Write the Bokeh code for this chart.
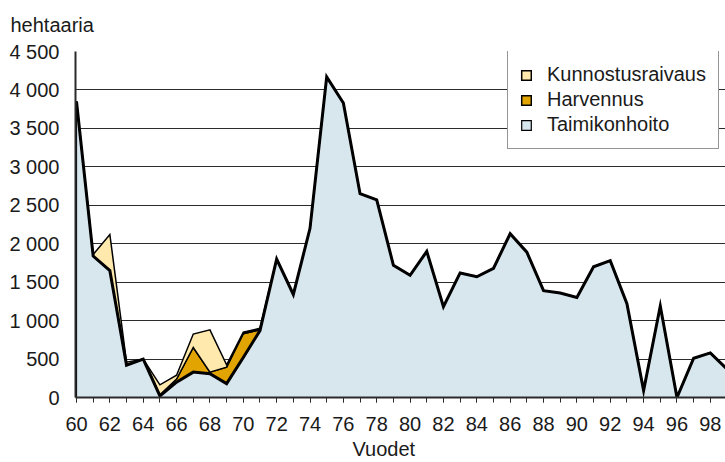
from bokeh.plotting import figure
from bokeh.models import Range1d, FixedTicker, Legend, LegendItem, Title
from bokeh.embed import file_html
from bokeh.resources import INLINE

years = list(range(60, 100))
taimikonhoito = [3850, 1840, 1650, 420, 500, 20, 200, 330, 310, 180,
                 520, 870, 1800, 1340, 2200, 4170, 3830, 2650, 2570, 1720,
                 1590, 1900, 1180, 1620, 1570, 1680, 2130, 1890, 1390, 1360,
                 1300, 1700, 1780, 1220, 90, 1190, 0, 510, 580, 370]
harvennus = [0, 0, 0, 0, 0, 15, 40, 320, 20, 215,
             310, 10, 0, 0, 0, 0, 0, 0, 0, 0,
             0, 0, 0, 0, 0, 0, 0, 0, 0, 0,
             0, 0, 0, 0, 0, 0, 0, 0, 0, 0]
kunnostusraivaus = [0, 20, 470, 40, 0, 130, 50, 175, 550, 30,
                    20, 20, 0, 0, 0, 0, 0, 0, 0, 0,
                    0, 0, 0, 0, 0, 0, 0, 0, 0, 0,
                    0, 0, 0, 0, 0, 0, 0, 0, 0, 0]
series_names = ["Kunnostusraivaus", "Harvennus", "Taimikonhoito"]
series_colors = ["#FFE9AD", "#E2A400", "#D8E6EE"]
x_ticks = list(range(60, 100, 2))
x_tick_labels = [str(t) for t in x_ticks]
y_ticks = [0, 500, 1000, 1500, 2000, 2500, 3000, 3500, 4000, 4500]
y_tick_labels = ["0", "500", "1 000", "1 500", "2 000", "2 500", "3 000", "3 500", "4 000", "4 500"]
y_unit = "hehtaaria"
x_title = "Vuodet"

FONT = "Liberation Sans"
TXT = "#1a1a1a"
AX = "#2b2b2b"

p = figure(width=725, height=462, output_backend="svg", toolbar_location=None,
           x_range=Range1d(59.94, 98.91), y_range=Range1d(0, 4500))
p.min_border_left = 75
p.min_border_right = 0
p.min_border_top = 51
p.min_border_bottom = 65
p.outline_line_color = None
p.background_fill_color = "white"
p.border_fill_color = "white"

base = [0] * len(years)
mid = [t + h for t, h in zip(taimikonhoito, harvennus)]
top = [m + k for m, k in zip(mid, kunnostusraivaus)]

def band(lower, upper, color, lw):
    xs = years + years[::-1]
    ys = upper + lower[::-1]
    return p.patch(xs, ys, fill_color=color, line_color="black", line_width=lw,
                   line_join="miter")

r_t = band(base, taimikonhoito, series_colors[2], 1.2)
r_h = band(taimikonhoito, mid, series_colors[1], 1.5)
r_k = band(mid, top, series_colors[0], 1.5)
p.line(years, taimikonhoito, line_color="black", line_width=3, line_join="miter")

# axes
p.xaxis.ticker = FixedTicker(ticks=x_ticks, minor_ticks=years)
p.xaxis.major_label_overrides = {t: l for t, l in zip(x_ticks, x_tick_labels)}
p.yaxis.ticker = FixedTicker(ticks=y_ticks, minor_ticks=[])
p.yaxis.major_label_overrides = {t: l for t, l in zip(y_ticks, y_tick_labels)}
for ax in (p.xaxis, p.yaxis):
    ax.axis_line_color = AX
    ax.axis_line_width = 2
    ax.major_label_text_font = FONT
    ax.major_label_text_font_size = "20px"
    ax.major_label_text_color = TXT
    ax.major_tick_line_color = AX
    ax.minor_tick_line_color = AX
p.xaxis.major_tick_out = 5
p.xaxis.major_tick_in = 0
p.xaxis.minor_tick_out = 5
p.xaxis.minor_tick_in = 0
p.xaxis.major_label_standoff = 14
p.yaxis.major_tick_out = 0
p.yaxis.major_tick_in = 0
p.yaxis.minor_tick_out = 0
p.yaxis.major_label_standoff = 16

p.xgrid.grid_line_color = None
p.ygrid.ticker = FixedTicker(ticks=y_ticks[1:])
p.ygrid.grid_line_color = AX
p.ygrid.grid_line_width = 1.2

t_unit = Title(text=y_unit, align="left", offset=-65, standoff=27,
               vertical_align="top",
               text_font=FONT, text_font_size="20px", text_color=TXT,
               text_font_style="normal")
p.add_layout(t_unit, "above")
t_x = Title(text=x_title, align="left", offset=277, standoff=4,
            text_font=FONT, text_font_size="20px", text_color=TXT,
            text_font_style="normal")
p.add_layout(t_x, "below")

legend = Legend(items=[LegendItem(label=series_names[0], renderers=[r_k]),
                       LegendItem(label=series_names[1], renderers=[r_h]),
                       LegendItem(label=series_names[2], renderers=[r_t])],
                location=(432, 248))
legend.label_text_font = FONT
legend.label_text_font_size = "20px"
legend.label_text_color = TXT
legend.glyph_width = 12
legend.glyph_height = 12
legend.label_height = 20
legend.label_standoff = 15
legend.spacing = 2
legend.padding = 12
legend.margin = 0
legend.border_line_color = AX
legend.border_line_width = 1.2
legend.background_fill_color = "white"
legend.background_fill_alpha = 1
p.add_layout(legend)

open("out.html", "w").write(file_html(p, INLINE))
